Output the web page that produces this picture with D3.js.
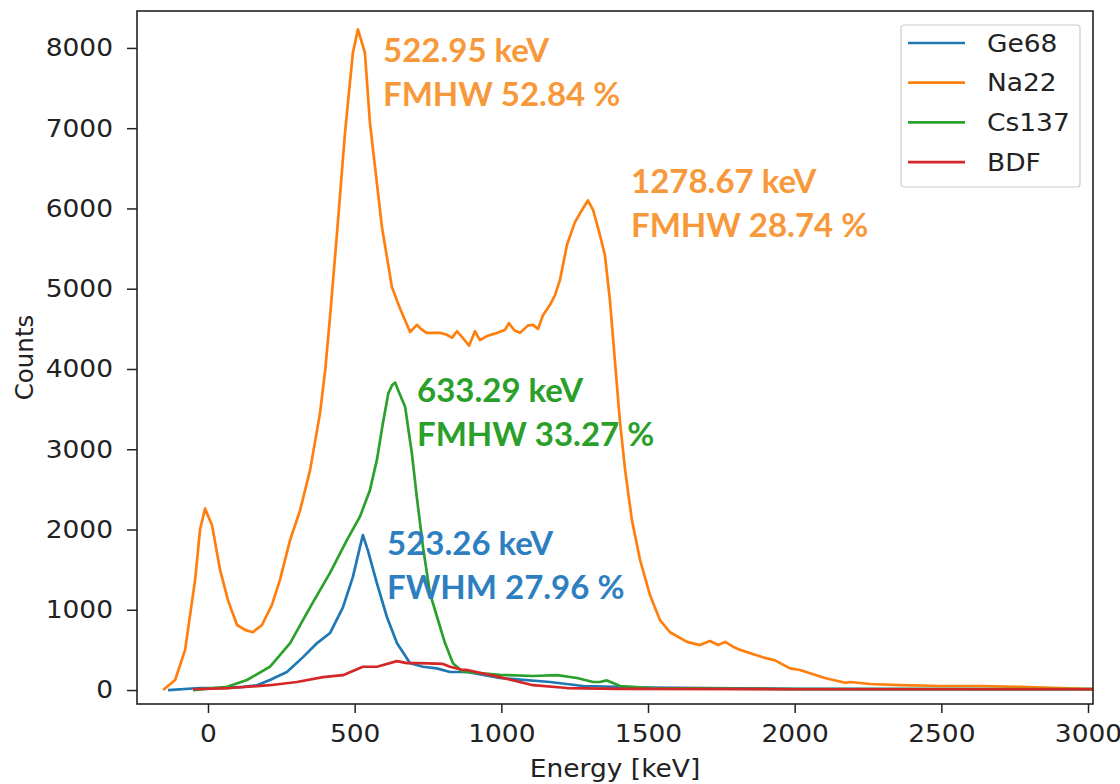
<!DOCTYPE html>
<html>
<head>
<meta charset="utf-8">
<script src="https://cdn.jsdelivr.net/npm/d3@7"></script>
<style>
  body { margin: 0; background: #fff; }
</style>
</head>
<body>
<svg id="chart" width="1120" height="784"></svg>
<script>
// spectra: energy [keV] and counts
var geE = [-136, -27, 41, 120, 167, 211, 269, 324, 372, 416, 460, 494, 518, 528, 545, 576, 610, 644, 689, 733, 780, 825, 883, 995, 1166, 1279, 1500, 2000, 3100];
var geC = [0, 25, 25, 40, 60, 125, 225, 410, 585, 710, 1030, 1410, 1780, 1930, 1740, 1330, 910, 585, 335, 290, 270, 225, 225, 150, 100, 50, 30, 15, 10];

var naE = [-153, -112, -78, -44, -27, -10, 14, 41, 68, 99, 126, 153, 184, 218, 245, 280, 314, 348, 382, 400, 416, 440, 467, 494, 511, 535, 552, 593, 627, 655, 689, 712, 726, 745, 770, 791, 812, 832, 849, 870, 890, 910, 927, 951, 978, 1013, 1026, 1045, 1064, 1090, 1108, 1125, 1142, 1166, 1183, 1200, 1224, 1251, 1275, 1295, 1313, 1336, 1353, 1370, 1387, 1404, 1422, 1445, 1473, 1507, 1541, 1575, 1633, 1677, 1711, 1739, 1763, 1790, 1814, 1865, 1899, 1933, 1984, 2018, 2103, 2172, 2189, 2257, 2359, 2496, 2632, 2768, 2905, 3014, 3100];
var naC = [0, 125, 500, 1370, 2000, 2260, 2050, 1500, 1120, 810, 750, 720, 810, 1060, 1370, 1870, 2240, 2740, 3450, 4000, 4650, 5700, 6940, 7940, 8230, 7940, 7070, 5770, 5020, 4750, 4460, 4550, 4500, 4450, 4450, 4450, 4430, 4390, 4470, 4380, 4290, 4470, 4360, 4410, 4440, 4490, 4570, 4480, 4450, 4540, 4550, 4500, 4670, 4800, 4920, 5110, 5550, 5830, 5980, 6100, 5980, 5670, 5420, 4860, 4110, 3360, 2740, 2120, 1620, 1180, 870, 720, 600, 560, 610, 560, 600, 540, 500, 440, 400, 370, 270, 250, 150, 90, 100, 75, 60, 50, 50, 40, 25, 12, 10];

var csE = [-51, 65, 133, 211, 280, 348, 416, 474, 518, 552, 576, 595, 615, 628, 638, 650, 672, 695, 712, 733, 757, 781, 808, 835, 869, 883, 995, 1108, 1190, 1258, 1313, 1336, 1360, 1405, 1507, 2000, 3100];
var csC = [0, 40, 125, 290, 585, 1030, 1460, 1870, 2160, 2490, 2870, 3300, 3700, 3800, 3830, 3720, 3530, 2950, 2400, 1780, 1200, 910, 585, 335, 225, 225, 190, 175, 185, 150, 100, 100, 120, 50, 25, 12, 10];

var bdE = [-51, 75, 211, 303, 392, 460, 528, 576, 644, 678, 723, 801, 825, 869, 883, 995, 1108, 1224, 1400, 2000, 3100];
var bdC = [10, 25, 60, 100, 160, 185, 290, 290, 360, 335, 335, 325, 290, 250, 250, 160, 60, 25, 15, 10, 10];

var names = ["Ge68", "Na22", "Cs137", "BDF"];
var colors = ["#1f77b4", "#ff7f0e", "#2ca02c", "#d62728"];
var seriesE = [geE, naE, csE, bdE];
var seriesC = [geC, naC, csC, bdC];

var xTicks = [0, 500, 1000, 1500, 2000, 2500, 3000];
var yTicks = [0, 1000, 2000, 3000, 4000, 5000, 6000, 7000, 8000];

// peak annotations
var noteE = [522.95, 1278.67, 633.29, 523.26];
var noteRes = [52.84, 28.74, 33.27, 27.96];
var noteWord = ["FMHW", "FMHW", "FMHW", "FWHM"];
var noteColor = ["#f7993a", "#f7993a", "#2a9f2a", "#2e7fbf"];

var svg = d3.select("#chart");
var pLeft = 137, pRight = 1093, pTop = 11, pBottom = 704;
var fontSize = "24.5px";

// the reference is a bit wider than tall, so stretch the plain texts
function stretch(sel) {
  sel.each(function() {
    var w = this.getComputedTextLength();
    d3.select(this).attr("textLength", w * 1.08).attr("lengthAdjust", "spacingAndGlyphs");
  });
}

var x = d3.scaleLinear().domain([-242, 3017]).range([pLeft, pRight]);
var y = d3.scaleLinear().domain([-174, 8460]).range([pBottom, pTop]);

svg.append("clipPath").attr("id", "clip")
  .append("rect")
  .attr("x", pLeft).attr("y", pTop)
  .attr("width", pRight - pLeft).attr("height", pBottom - pTop);

var line = d3.line()
  .x(function(d) { return x(d[0]); })
  .y(function(d) { return y(d[1]); });

var plot = svg.append("g").attr("clip-path", "url(#clip)");
for (var i = 0; i < names.length; i++) {
  var pts = seriesE[i].map(function(e, j) { return [e, seriesC[i][j]]; });
  plot.append("path")
    .attr("d", line(pts))
    .attr("fill", "none")
    .attr("stroke", colors[i])
    .attr("stroke-width", 2.7)
    .attr("stroke-linejoin", "round");
}

// axes
var xAxis = svg.append("g")
  .attr("transform", "translate(0," + pBottom + ")")
  .call(d3.axisBottom(x).tickValues(xTicks).tickSize(9).tickPadding(12).tickFormat(d3.format("d")));
var yAxis = svg.append("g")
  .attr("transform", "translate(" + pLeft + ",0)")
  .call(d3.axisLeft(y).tickValues(yTicks).tickSize(10).tickPadding(14).tickFormat(d3.format("d")));
[xAxis, yAxis].forEach(function(a) {
  a.select(".domain").remove();
  a.selectAll("line").attr("stroke", "#222").attr("stroke-width", 1.5);
  a.selectAll("text").attr("fill", "#222")
    .style("font-size", fontSize).style("font-family", "DejaVu Sans");
  stretch(a.selectAll("text"));
});

svg.append("rect")
  .attr("x", pLeft).attr("y", pTop)
  .attr("width", pRight - pLeft).attr("height", pBottom - pTop)
  .attr("fill", "none").attr("stroke", "#222").attr("stroke-width", 1.6);

svg.append("text")
  .attr("x", (pLeft + pRight) / 2).attr("y", 777)
  .attr("text-anchor", "middle").attr("fill", "#222")
  .style("font-size", fontSize).style("font-family", "DejaVu Sans")
  .text("Energy [keV]")
  .call(stretch);
svg.append("text")
  .attr("transform", "translate(33," + ((pTop + pBottom) / 2) + ") rotate(-90)")
  .attr("text-anchor", "middle").attr("fill", "#222")
  .style("font-size", fontSize).style("font-family", "DejaVu Sans")
  .text("Counts");

// legend
var lg = svg.append("g").attr("transform", "translate(901,25)");
lg.append("rect")
  .attr("width", 179).attr("height", 162).attr("rx", 3)
  .attr("fill", "#fff").attr("stroke", "#ccc").attr("stroke-width", 1.2);
names.forEach(function(n, i) {
  var yy = 18 + i * 39.7;
  lg.append("line")
    .attr("x1", 7).attr("x2", 64).attr("y1", yy).attr("y2", yy)
    .attr("stroke", colors[i]).attr("stroke-width", 2.7);
  lg.append("text")
    .attr("x", 86).attr("y", yy + 8.5).attr("fill", "#222")
    .style("font-size", fontSize).style("font-family", "DejaVu Sans")
    .text(n)
    .call(stretch);
});

// annotation text positions (pixels)
var noteX = [383, 631, 417, 387];
var noteY = [62, 193, 402, 555];
for (var k = 0; k < noteE.length; k++) {
  var t = svg.append("text")
    .style("font-family", "Lato, 'Open Sans', sans-serif")
    .style("font-weight", "bold")
    .style("font-size", "33px")
    .attr("fill", noteColor[k]);
  t.append("tspan").attr("x", noteX[k]).attr("y", noteY[k])
    .text(noteE[k].toFixed(2) + " keV");
  t.append("tspan").attr("x", noteX[k]).attr("y", noteY[k] + 44)
    .text(noteWord[k] + " " + noteRes[k].toFixed(2) + " %");
}
</script>
</body>
</html>
